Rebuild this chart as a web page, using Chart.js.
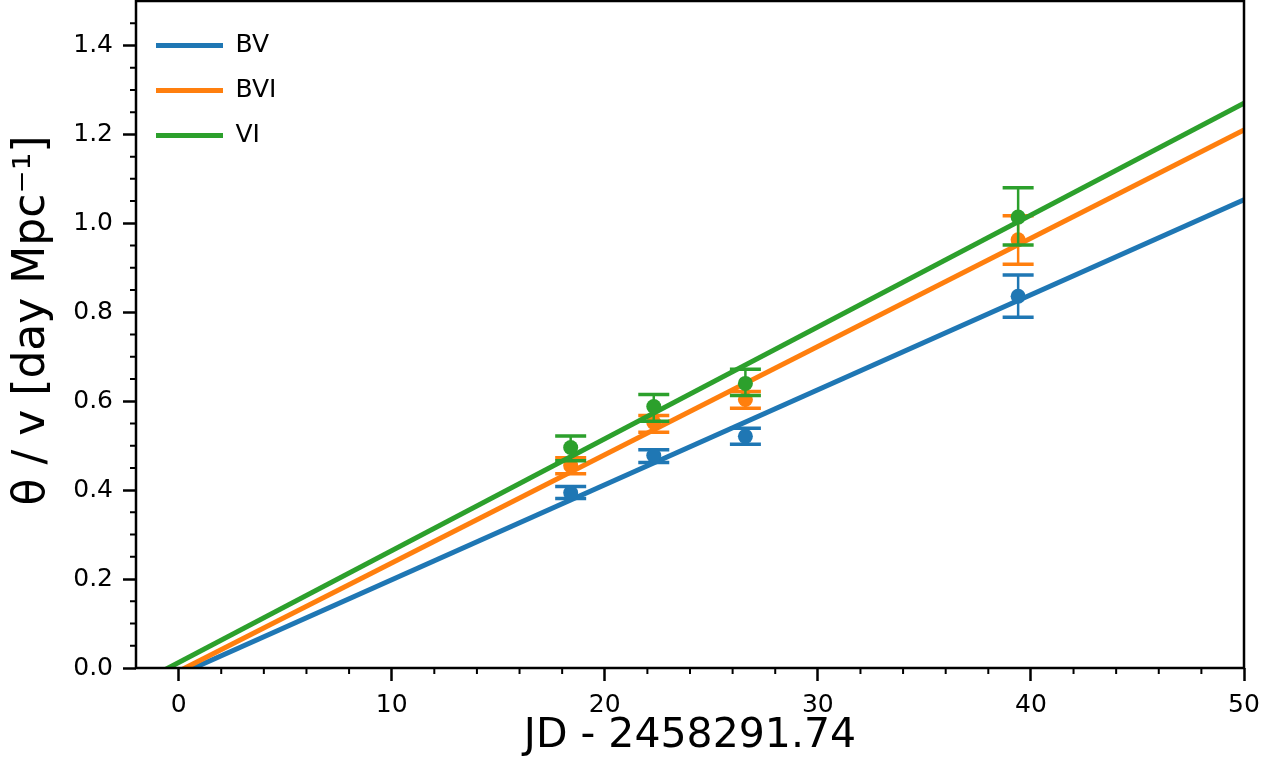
<!DOCTYPE html>
<html>
<head>
<meta charset="utf-8">
<script src="https://cdn.jsdelivr.net/npm/chart.js@4"></script>
<style>
  html, body { margin: 0; padding: 0; background: #fff; }
</style>
</head>
<body>
<canvas id="fitChart" width="1275" height="757"></canvas>
<script>
// series
const seriesNames = ["BV", "BVI", "VI"];
const seriesColors = ["#1f77b4", "#ff7f0e", "#2ca02c"];

// measured points (JD - 2458291.74)
const epochs = [18.4, 22.3, 26.6, 39.4];
const thetaBV = [0.394, 0.478, 0.521, 0.836];
const thetaBVI = [0.455, 0.552, 0.604, 0.963];
const thetaVI = [0.496, 0.588, 0.640, 1.014];

// error bar bounds
const loBV = [0.381, 0.462, 0.503, 0.789];
const hiBV = [0.408, 0.491, 0.539, 0.884];
const loBVI = [0.437, 0.530, 0.584, 0.908];
const hiBVI = [0.473, 0.568, 0.622, 1.017];
const loVI = [0.466, 0.555, 0.613, 0.951];
const hiVI = [0.522, 0.615, 0.672, 1.080];

// fitted lines, end values
const fitX = [-2, 50];
const fitBV = [-0.058, 1.053];
const fitBVI = [-0.056, 1.21];
const fitVI = [-0.038, 1.27];

// ticks
const xMajor = [0, 10, 20, 30, 40, 50];
const xMinor = [2, 4, 6, 8, 12, 14, 16, 18, 22, 24, 26, 28, 32, 34, 36, 38, 42, 44, 46, 48];
const yMajor = [0.0, 0.2, 0.4, 0.6, 0.8, 1.0, 1.2, 1.4];
const yMinor = [0.05, 0.1, 0.15, 0.25, 0.3, 0.35, 0.45, 0.5, 0.55, 0.65, 0.7, 0.75,
  0.85, 0.9, 0.95, 1.05, 1.1, 1.15, 1.25, 1.3, 1.35, 1.45];

const xTitle = "JD - 2458291.74";
const yTitle = "  θ / v [day Mpc⁻¹]";

const toPoints = (xs, ys) => xs.map((x, i) => ({ x: x, y: ys[i] }));

function fitDataset(i, ys, order) {
  return {
    label: seriesNames[i],
    data: toPoints(fitX, ys),
    showLine: true,
    borderColor: seriesColors[i],
    backgroundColor: seriesColors[i],
    borderWidth: 5,
    pointRadius: 0,
    pointHoverRadius: 0,
    clip: 0,
    order: order,
  };
}

function pointDataset(i, ys, lo, hi, order) {
  return {
    label: seriesNames[i] + " data",
    data: toPoints(epochs, ys),
    errLo: lo,
    errHi: hi,
    backgroundColor: seriesColors[i],
    borderColor: seriesColors[i],
    borderWidth: 0,
    pointRadius: 7.5,
    pointHoverRadius: 7.5,
    order: order,
  };
}

// error bars drawn just before each point dataset
const errorBars = {
  id: "errorBars",
  beforeDatasetDraw(chart, args) {
    const ds = chart.data.datasets[args.index];
    if (!ds.errLo) return;
    const xs = chart.scales.x;
    const ys = chart.scales.y;
    const ctx = chart.ctx;
    ctx.save();
    ctx.strokeStyle = ds.borderColor;
    ds.data.forEach((p, i) => {
      const px = xs.getPixelForValue(p.x);
      const lo = ys.getPixelForValue(ds.errLo[i]);
      const hi = ys.getPixelForValue(ds.errHi[i]);
      ctx.lineWidth = 2.5;
      ctx.beginPath();
      ctx.moveTo(px, lo);
      ctx.lineTo(px, hi);
      ctx.stroke();
      ctx.lineWidth = 3.5;
      ctx.beginPath();
      ctx.moveTo(px - 15.5, lo);
      ctx.lineTo(px + 15.5, lo);
      ctx.moveTo(px - 15.5, hi);
      ctx.lineTo(px + 15.5, hi);
      ctx.stroke();
    });
    ctx.restore();
  },
};

// box frame + minor ticks
const frameTicks = {
  id: "frameTicks",
  afterDraw(chart) {
    const ctx = chart.ctx;
    const a = chart.chartArea;
    const xs = chart.scales.x;
    const ys = chart.scales.y;
    ctx.save();
    ctx.strokeStyle = "#000";
    ctx.lineWidth = 2;
    ctx.beginPath();
    xMinor.forEach((v) => {
      const px = xs.getPixelForValue(v);
      ctx.moveTo(px, a.bottom);
      ctx.lineTo(px, a.bottom + 6);
    });
    yMinor.forEach((v) => {
      const py = ys.getPixelForValue(v);
      ctx.moveTo(a.left, py);
      ctx.lineTo(a.left - 6, py);
    });
    ctx.stroke();
    ctx.lineWidth = 2.5;
    ctx.strokeRect(a.left, a.top, a.right - a.left, a.bottom - a.top);
    ctx.restore();
  },
};

Chart.defaults.color = "#000";
Chart.defaults.font.family = "'DejaVu Sans', sans-serif";

const ctx = document.getElementById("fitChart").getContext("2d");
new Chart(ctx, {
  type: "scatter",
  data: {
    datasets: [
      fitDataset(0, fitBV, 5),
      fitDataset(1, fitBVI, 3),
      fitDataset(2, fitVI, 1),
      pointDataset(0, thetaBV, loBV, hiBV, 4),
      pointDataset(1, thetaBVI, loBVI, hiBVI, 2),
      pointDataset(2, thetaVI, loVI, hiVI, 0),
    ],
  },
  options: {
    responsive: false,
    animation: false,
    layout: { autoPadding: false, padding: { top: 1, right: 31, left: 0, bottom: 0 } },
    plugins: {
      tooltip: { enabled: false },
      legend: {
        position: "chartArea",
        align: "start",
        title: { display: true, text: " ", padding: 0, font: { size: 13, lineHeight: 1 } },
        labels: {
          boxWidth: 67,
          boxHeight: 5,
          padding: 20,
          font: { size: 25 },
          generateLabels: () =>
            seriesNames.map((name, i) => ({
              text: name,
              fillStyle: seriesColors[i],
              strokeStyle: seriesColors[i],
              lineWidth: 0,
              hidden: false,
              datasetIndex: i,
              fontColor: "#000",
            })),
        },
      },
    },
    scales: {
      x: {
        type: "linear",
        min: -2,
        max: 50,
        afterBuildTicks: (s) => { s.ticks = xMajor.map((v) => ({ value: v })); },
        afterFit: (s) => { s.height = 89; s.paddingLeft = 0; s.paddingRight = 0; },
        ticks: { font: { size: 25 }, padding: 9, maxRotation: 0, autoSkip: false },
        grid: { drawOnChartArea: false, drawTicks: true, tickLength: 13, tickWidth: 2.5, tickColor: "#000" },
        border: { display: false },
        title: {
          display: true,
          text: xTitle,
          font: { size: 41, lineHeight: 1 },
          padding: { top: 0, bottom: 0 },
        },
      },
      y: {
        type: "linear",
        min: 0,
        max: 1.5,
        afterBuildTicks: (s) => { s.ticks = yMajor.map((v) => ({ value: v })); },
        afterFit: (s) => { s.width = 136; s.paddingTop = 0; s.paddingBottom = 0; },
        ticks: { font: { size: 25 }, padding: 10, callback: (v) => v.toFixed(1) },
        grid: { drawOnChartArea: false, drawTicks: true, tickLength: 13, tickWidth: 2.5, tickColor: "#000" },
        border: { display: false },
        title: {
          display: true,
          text: yTitle,
          font: { size: 44, lineHeight: 1 },
          padding: { top: 11, bottom: 0 },
        },
      },
    },
  },
  plugins: [errorBars, frameTicks],
});
</script>
</body>
</html>
